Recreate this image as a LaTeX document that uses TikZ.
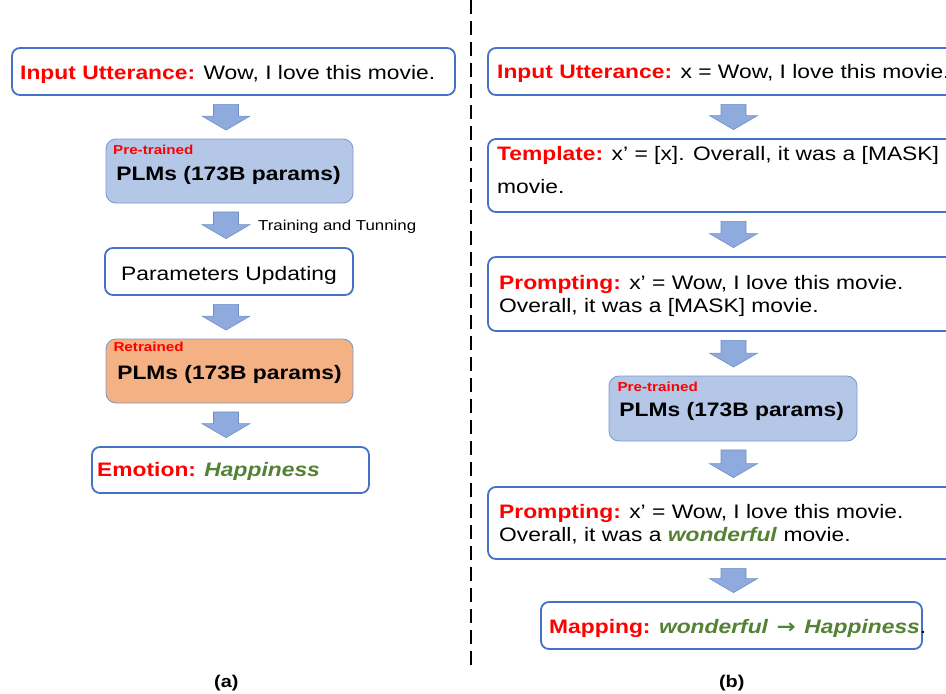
\documentclass[tikz,border=0pt]{standalone}
\usepackage{fontspec}
\setmainfont{Liberation Sans}
\newfontfamily\arrowfont{DejaVu Sans}
\usepackage{graphicx}
\usetikzlibrary{calc}
\definecolor{bblue}{HTML}{4472C4}
\definecolor{plmfill}{HTML}{B4C7E7}
\definecolor{orfill}{HTML}{F4B183}
\definecolor{plmedge}{HTML}{7F9BCB}
\definecolor{arrfill}{HTML}{8FAADC}
\definecolor{arredge}{HTML}{6E8EC6}
\definecolor{mygreen}{HTML}{548235}
\newcommand\sx[1]{\scalebox{1.17}[1]{#1}}
\newcommand\redlab[1]{\textcolor{red}{\textbf{#1}}}
\newcommand\grn[1]{\textcolor{mygreen}{\textbf{\textit{#1}}}}
\newcommand\blockarr[3]{%
  \path (#1.south -| #3) ++(0,8.5) coordinate (tA) (#2.north -| #3) ++(0,-8.5) coordinate (tB);
  \draw[arr] ($(tA)+(-12.5,0)$) -- ($(tA)+(12.5,0)$) -- ($(tB)+(12.5,-14)$) -- ($(tB)+(24,-14)$) -- (tB) -- ($(tB)+(-24,-14)$) -- ($(tB)+(-12.5,-14)$) -- cycle;
}
\begin{document}
\begin{tikzpicture}[x=1pt,y=-1pt,
  box/.style={draw=bblue, line width=1.8pt, rounded corners=8pt, fill=white, inner sep=0pt},
  plm/.style={draw=plmedge, line width=0.9pt, rounded corners=10pt, inner sep=0pt},
  txt/.style={inner sep=0pt, anchor=base west, font=\fontsize{19.5}{23}\selectfont},
  ctxt/.style={txt, anchor=base},
  small/.style={inner sep=0pt, anchor=base west, font=\fontsize{13}{15}\selectfont\bfseries, text=red},
  arr/.style={fill=arrfill, draw=arredge, line width=0.6pt, line join=miter}]
\useasboundingbox (0,0) rectangle (946,694);
\clip (0,0) rectangle (946,694);

% columns for arrows
\coordinate (cola) at (226,0);
\coordinate (colb) at (733.5,0);

% divider
\coordinate (dtop) at (471,0);
\coordinate (dbot) at (471,665);
\draw[line width=2pt, dash pattern=on 14pt off 7pt] (dtop) -- (dbot);

% ---------- left (a) ----------
\node[box, minimum width=443pt, minimum height=47pt] (in1) at (233.5,71.5) {};
\node[txt] (in1t) at (20,79) {\sx{\redlab{Input Utterance:} Wow, I love this movie.}};

\node[plm, fill=plmfill, minimum width=247pt, minimum height=64pt] (plm1) at (229.5,171) {};
\node[small] (pt1) at (113,154) {\sx{Pre-trained}};
\node[ctxt] (plm1t) at (228.5,180) {\sx{\textbf{PLMs (173B params)}}};

\node[box, minimum width=248pt, minimum height=47pt] (upd) at (229,271.5) {};
\node[ctxt] (updt) at (229,280) {\sx{Parameters Updating}};
\node[inner sep=0pt, anchor=base west, font=\fontsize{14.4}{17}\selectfont] (trt) at (258,230.5) {\sx{Training and Tunning}};

\node[plm, fill=orfill, minimum width=247pt, minimum height=64pt] (plm2) at (229.5,371) {};
\node[small] (rt) at (113.3,351.7) {\sx{Retrained}};
\node[ctxt] (plm2t) at (229.5,379.3) {\sx{\textbf{PLMs (173B params)}}};

\node[box, minimum width=277pt, minimum height=46pt] (emo) at (230.5,470) {};
\node[txt] (emot) at (97,476) {\sx{\redlab{Emotion:} \grn{Happiness}}};

\blockarr{in1}{plm1}{cola}
\blockarr{plm1}{upd}{cola}
\blockarr{upd}{plm2}{cola}
\blockarr{plm2}{emo}{cola}

% ---------- right (b) ----------
\node[box, minimum width=472pt, minimum height=47pt] (rin) at (724,71.5) {};
\node[txt] (rint) at (497,78.5) {\sx{\redlab{Input Utterance:} x = Wow, I love this movie.}};

\node[box, minimum width=472pt, minimum height=73pt] (tmp) at (724,175.5) {};
\node[txt] (tmp1) at (497,160) {\sx{\redlab{Template:} x’ = [x]. Overall, it was a [MASK]}};
\node[txt] (tmp2) at (497,193.5) {\sx{movie.}};

\node[box, minimum width=472pt, minimum height=74pt] (pr1) at (724,294) {};
\node[txt] (pr1a) at (499,289.3) {\sx{\redlab{Prompting:} x’ = Wow, I love this movie.}};
\node[txt] (pr1b) at (499,312.7) {\sx{Overall, it was a [MASK] movie.}};

\node[plm, fill=plmfill, minimum width=248pt, minimum height=65pt] (plm3) at (733,408.5) {};
\node[small] (pt3) at (617.3,391.7) {\sx{Pre-trained}};
\node[ctxt] (plm3t) at (731.7,416) {\sx{\textbf{PLMs (173B params)}}};

\node[box, minimum width=472pt, minimum height=72pt] (pr2) at (724,523) {};
\node[txt] (pr2a) at (499,518) {\sx{\redlab{Prompting:} x’ = Wow, I love this movie.}};
\node[txt] (pr2b) at (499,541.7) {\sx{Overall, it was a \grn{wonderful} movie.}};

\node[box, minimum width=381pt, minimum height=47pt] (map) at (731.5,625.5) {};
\node[txt] (mapt) at (549,633.3) {\sx{\redlab{Mapping:} \grn{wonderful\hspace{2pt} {\arrowfont\bfseries →}\hspace{2pt} Happiness}.}};

\blockarr{rin}{tmp}{colb}
\blockarr{tmp}{pr1}{colb}
\blockarr{pr1}{plm3}{colb}
\blockarr{plm3}{pr2}{colb}
\blockarr{pr2}{map}{colb}

% sub-captions
\node[inner sep=0pt, anchor=base, font=\fontsize{17}{20}\selectfont\bfseries] (la) at (226.3,687) {\sx{(a)}};
\node[inner sep=0pt, anchor=base, font=\fontsize{17}{20}\selectfont\bfseries] (lb) at (731.7,687) {\sx{(b)}};
\end{tikzpicture}
\end{document}
